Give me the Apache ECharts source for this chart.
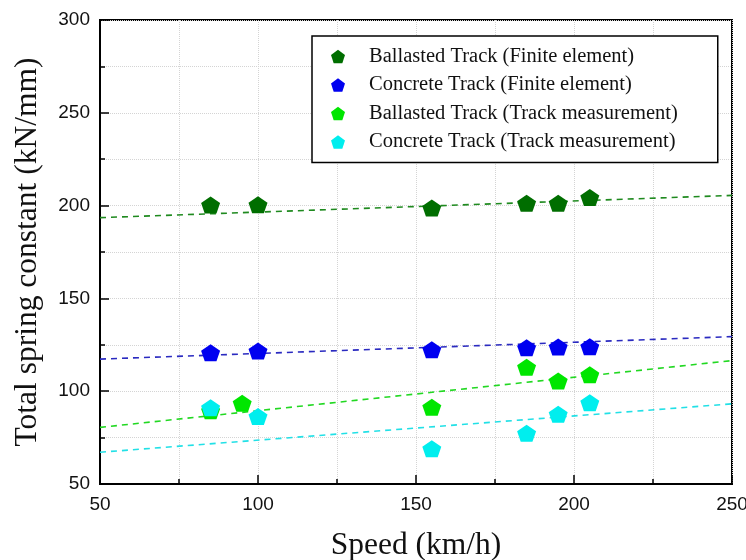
<!DOCTYPE html>
<html>
<head>
<meta charset="utf-8">
<script src="https://cdn.jsdelivr.net/npm/echarts@6/dist/echarts.min.js"></script>
<style>
  html, body { margin: 0; padding: 0; background: #fff; }
  #chart { width: 746px; height: 560px; }
</style>
</head>
<body>
<div id="chart"></div>
<script>
// speeds (km/h)
const speedFE = [85, 100, 155, 185, 195, 205];
const speedBallastTM = [85, 95, 155, 185, 195, 205];
const speedConcreteTM = [85, 100, 155, 185, 195, 205];

// total spring constant (kN/mm)
const ballastFE = [200.3, 200.5, 198.7, 201.2, 201.2, 204.4];
const concreteFE = [120.7, 121.6, 122.3, 123.4, 123.8, 123.9];
const ballastTM = [89.5, 93.5, 91.4, 112.9, 105.5, 108.8];
const concreteTM = [91.1, 86.4, 69.0, 77.4, 87.6, 93.8];

// fitted trend lines, endpoints at x = 50 and x = 250
const trendX = [50, 250];
const ballastFEFit = [193.5, 205.5];
const concreteFEFit = [117.3, 129.4];
const ballastTMFit = [80.5, 116.5];
const concreteTMFit = [67.1, 93.2];

const seriesNames = [
  'Ballasted Track (Finite element)',
  'Concrete Track (Finite element)',
  'Ballasted Track (Track measurement)',
  'Concrete Track (Track measurement)'
];
const colors = ['#006e00', '#0000f0', '#00e600', '#00eeee'];
const lineColors = ['#1f8a1f', '#2a2ac0', '#22d822', '#22e0e6'];

const pentagon = 'path://M50,0 L97.6,34.5 L79.4,90.5 L20.6,90.5 L2.4,34.5 Z';

function zip(xs, ys) {
  return xs.map(function (x, i) { return [x, ys[i]]; });
}

const pointSets = [
  zip(speedFE, ballastFE),
  zip(speedFE, concreteFE),
  zip(speedBallastTM, ballastTM),
  zip(speedConcreteTM, concreteTM)
];
const fitSets = [ballastFEFit, concreteFEFit, ballastTMFit, concreteTMFit];

let series = [];
fitSets.forEach(function (fit, i) {
  series.push({
    type: 'line',
    data: zip(trendX, fit),
    symbol: 'none',
    silent: true,
    z: 1,
    lineStyle: { color: lineColors[i], width: 1.6, type: [6, 5] }
  });
});
pointSets.forEach(function (pts, i) {
  series.push({
    name: seriesNames[i],
    type: 'scatter',
    data: pts,
    symbol: pentagon,
    symbolSize: [19, 17],
    z: 3,
    itemStyle: { color: colors[i], opacity: 1 }
  });
});

const axisText = { fontFamily: 'Liberation Sans', fontSize: 19, color: '#111' };
const nameText = { fontFamily: 'Liberation Serif', fontSize: 31.5, color: '#111' };

let myChart = echarts.init(document.getElementById('chart'), null, { renderer: 'canvas' });
let option = {
  backgroundColor: '#fff',
  animation: false,
  grid: {
    left: 100, right: 14, top: 20, bottom: 76,
    outerBoundsMode: 'none',
    containLabel: false,
    show: true, borderColor: '#000', borderWidth: 2
  },
  legend: {
    orient: 'vertical',
    left: 312,
    top: 36,
    data: seriesNames,
    backgroundColor: '#fff',
    borderColor: '#000',
    borderWidth: 1.5,
    padding: [10, 40, 10, 19],
    itemGap: 7.5,
    itemWidth: 14,
    itemHeight: 14,
    textStyle: { fontFamily: 'Liberation Serif', fontSize: 20.5, color: '#111', padding: [0, 0, 0, 19] }
  },
  xAxis: {
    type: 'value',
    min: 50, max: 250, interval: 50,
    name: 'Speed (km/h)',
    nameLocation: 'middle',
    nameGap: 46,
    nameTextStyle: nameText,
    axisLine: { show: true, onZero: false, lineStyle: { color: '#000', width: 2 } },
    axisTick: { inside: true, length: 9, lineStyle: { color: '#000', width: 1.5 } },
    minorTick: { show: true, splitNumber: 2, length: 5, lineStyle: { color: '#000', width: 1.5 } },
    axisLabel: Object.assign({ margin: 11 }, axisText),
    splitLine: { show: true, lineStyle: { color: '#d4d4d4', type: 'dotted', width: 1 } },
    minorSplitLine: { show: true, lineStyle: { color: '#d4d4d4', type: 'dotted', width: 1 } }
  },
  yAxis: {
    type: 'value',
    min: 50, max: 300, interval: 50,
    name: 'Total spring constant (kN/mm)',
    nameLocation: 'middle',
    nameGap: 56,
    nameTextStyle: nameText,
    axisLine: { show: true, onZero: false, lineStyle: { color: '#000', width: 2 } },
    axisTick: { inside: true, length: 9, lineStyle: { color: '#000', width: 1.5 } },
    minorTick: { show: true, splitNumber: 2, length: 5, lineStyle: { color: '#000', width: 1.5 } },
    axisLabel: Object.assign({ margin: 10 }, axisText),
    splitLine: { show: true, lineStyle: { color: '#d4d4d4', type: 'dotted', width: 1 } },
    minorSplitLine: { show: true, lineStyle: { color: '#d4d4d4', type: 'dotted', width: 1 } }
  },
  series: series
};

option && myChart.setOption(option);
</script>
</body>
</html>
